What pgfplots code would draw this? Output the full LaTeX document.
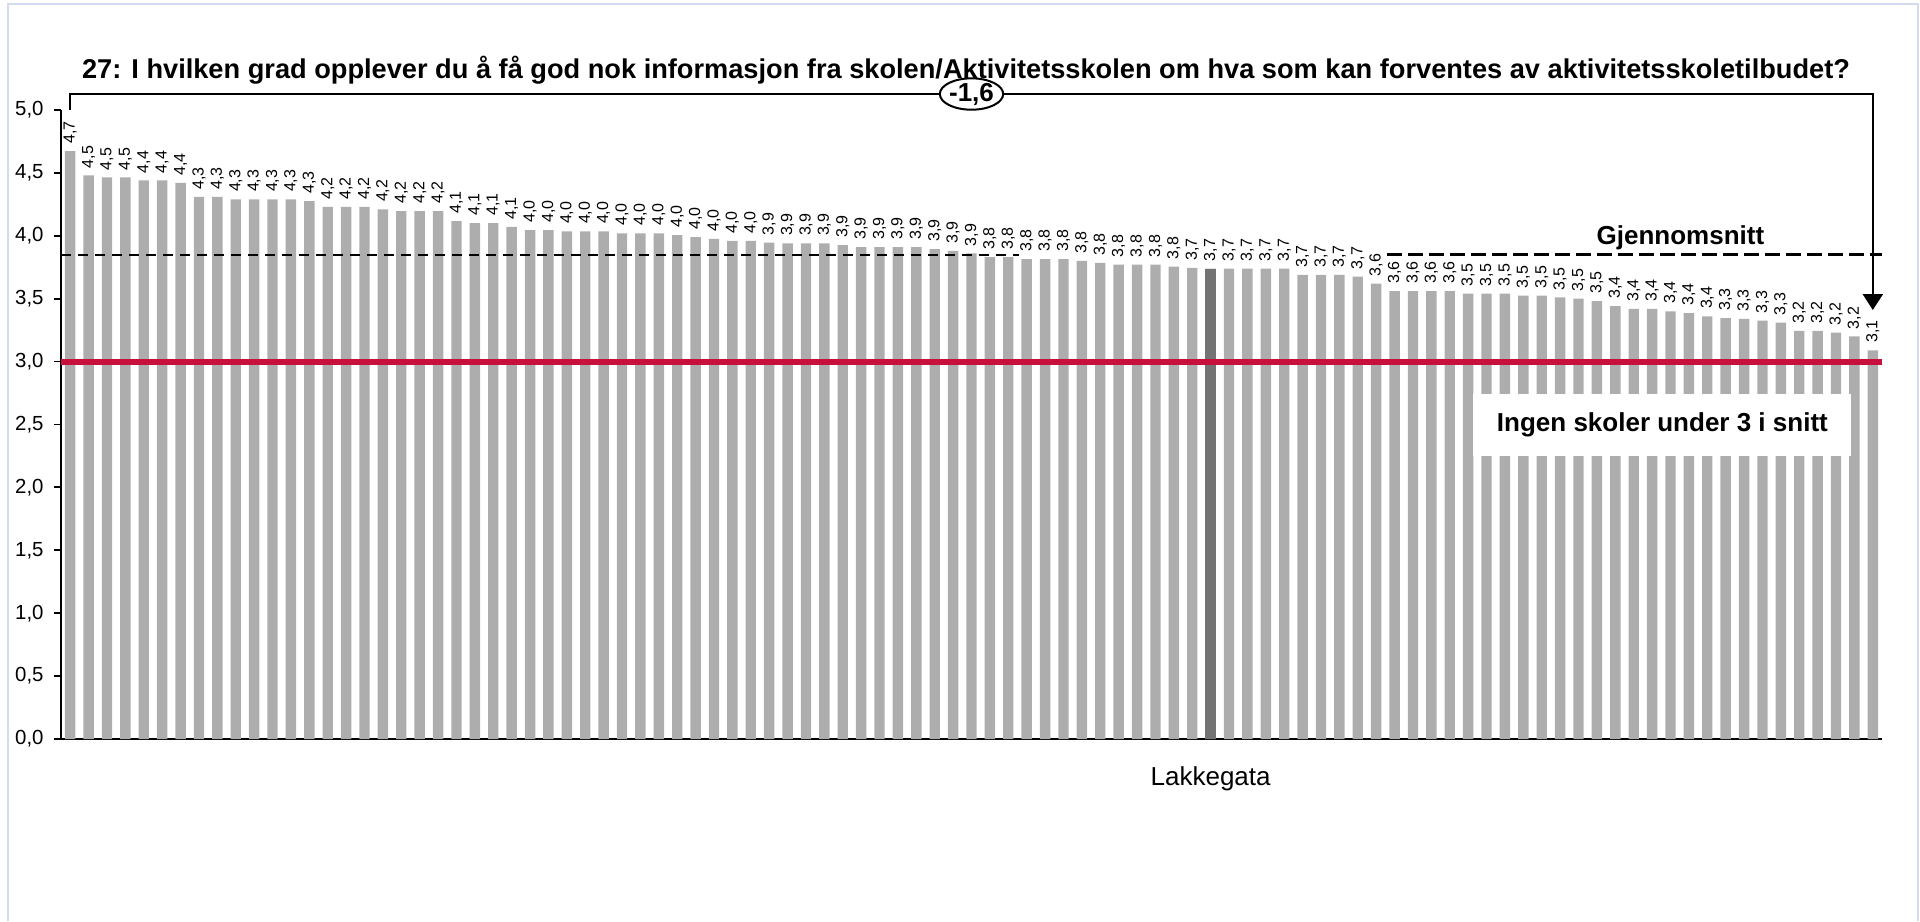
\documentclass[border=0pt]{standalone}
\usepackage{fontspec}
\setmainfont{Liberation Sans}
\usepackage{pgfplots}
\pgfplotsset{compat=1.18}
\usetikzlibrary{arrows.meta,shapes.geometric}
\pgfkeys{/pgf/number format/assume math mode=true}
\definecolor{bargray}{HTML}{ADADAD}
\definecolor{bardark}{HTML}{737373}
\definecolor{limred}{HTML}{C8103C}
\definecolor{framecol}{HTML}{D5DBEF}

\begin{document}
\begin{tikzpicture}
\useasboundingbox (0,0) rectangle (960pt,460.5pt);
\draw[framecol, line width=1pt] (3.75pt,0) -- (3.75pt,458.25pt) -- (958.75pt,458.25pt) -- (958.75pt,0);
\begin{axis}[
  at={(30.5pt,91pt)}, anchor=south west,
  width=910.5pt, height=314.5pt, scale only axis,
  ybar, bar width=5.2pt,
  xmin=0.5, xmax=99.5, ymin=0, ymax=5,
  clip=false,
  axis x line*=bottom, axis y line*=left,
  axis line style={black, line width=0.9pt},
  xtick={63}, xticklabels={Lakkegata},
  xtick style={draw=none},
  xticklabel style={font=\fontsize{13}{15}\selectfont, yshift=-7pt},
  ytick={0,0.5,1,1.5,2,2.5,3,3.5,4,4.5,5},
  tick align=outside, major tick length=3.5pt,
  ytick style={black, line width=0.9pt},
  yticklabel style={font=\fontsize{10.2}{12}\selectfont, xshift=-1.7pt,
    /pgf/number format/.cd, fixed, fixed zerofill, precision=1, use comma},
]
% all schools, sorted
\addplot[fill=bargray, draw=none, bar shift=0pt,
  nodes near coords={\pgfmathprintnumber[fixed,fixed zerofill,precision=1,use comma]{\pgfplotspointmeta}},
  every node near coord/.append style={rotate=90, anchor=west, black,
    font=\fontsize{8}{9}\selectfont, inner xsep=3.5pt, inner ysep=0pt}]
coordinates {
 (1,4.674)(2,4.48)(3,4.464)(4,4.464)(5,4.44)(6,4.44)(7,4.42)(8,4.31)(9,4.31)(10,4.29)
 (11,4.29)(12,4.29)(13,4.29)(14,4.275)(15,4.23)(16,4.23)(17,4.23)(18,4.21)(19,4.196)(20,4.196)
 (21,4.196)(22,4.116)(23,4.10)(24,4.10)(25,4.07)(26,4.045)(27,4.045)(28,4.035)(29,4.035)(30,4.035)
 (31,4.02)(32,4.02)(33,4.02)(34,4.005)(35,3.99)(36,3.975)(37,3.96)(38,3.96)(39,3.945)(40,3.94)
 (41,3.94)(42,3.94)(43,3.925)(44,3.91)(45,3.91)(46,3.91)(47,3.91)(48,3.895)(49,3.88)(50,3.86)
 (51,3.83)(52,3.83)(53,3.815)(54,3.815)(55,3.815)(56,3.80)(57,3.785)(58,3.77)(59,3.77)(60,3.77)
 (61,3.755)(62,3.745)(63,3.74)(64,3.74)(65,3.74)(66,3.74)(67,3.74)(68,3.69)(69,3.69)(70,3.69)
 (71,3.675)(72,3.62)(73,3.56)(74,3.56)(75,3.56)(76,3.56)(77,3.54)(78,3.54)(79,3.54)(80,3.525)
 (81,3.525)(82,3.51)(83,3.50)(84,3.48)(85,3.44)(86,3.42)(87,3.42)(88,3.40)(89,3.385)(90,3.36)
 (91,3.345)(92,3.34)(93,3.325)(94,3.31)(95,3.245)(96,3.245)(97,3.23)(98,3.20)(99,3.09)};
% highlighted school
\addplot[fill=bardark, draw=none, bar shift=0pt] coordinates {(63,3.74)};
% average (broken where the labels sit) and limit
\addplot[black, sharp plot, line width=0.9pt, dash pattern=on 5pt off 3.5pt] coordinates {(0.5,3.85) (52.6,3.85)};
\addplot[black, sharp plot, line width=1.4pt, dash pattern=on 7.5pt off 3pt] coordinates {(72.6,3.85) (99.5,3.85)};
\addplot[limred, sharp plot, line width=3pt] coordinates {(0.5,3) (99.5,3)};

\node[font=\fontsize{13}{15}\selectfont\bfseries] at (axis cs:88.54,3.987) {Gjennomsnitt};
\node[fill=white, minimum width=189pt, minimum height=31pt,
  font=\fontsize{13}{15}\selectfont\bfseries] at (axis cs:87.56,2.496) {Ingen skoler under 3 i snitt};
\draw[line width=1.2pt, -{Triangle[width=10pt,length=8pt]}]
  (axis cs:1,5.0) -- (axis cs:1,5.127) -- (axis cs:99,5.127) -- (axis cs:99,3.41);
\node[ellipse, draw, fill=white, line width=1pt, minimum width=31pt, minimum height=15.5pt,
  inner sep=0pt, font=\fontsize{13}{15}\selectfont\bfseries] at (axis cs:50,5.127) {-1,6};
\end{axis}
\node[font=\fontsize{13.6}{16}\selectfont\bfseries] at (483pt,425.5pt)
  {27: I hvilken grad opplever du å få god nok informasjon fra skolen/Aktivitetsskolen om hva som kan forventes av aktivitetsskoletilbudet?};
\end{tikzpicture}
\end{document}
